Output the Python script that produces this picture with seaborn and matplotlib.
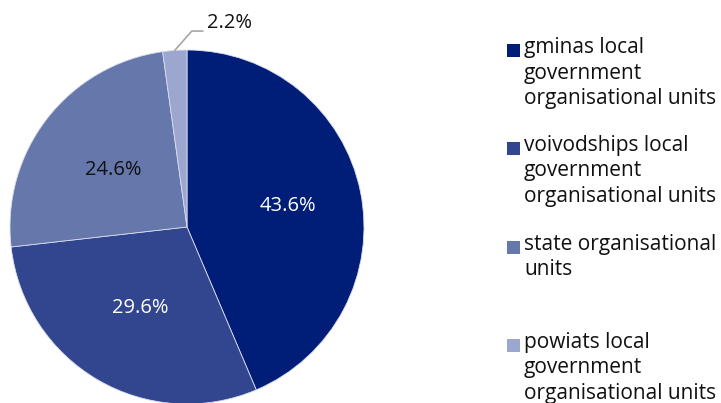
import matplotlib
matplotlib.use("Agg")
import matplotlib.pyplot as plt
import seaborn as sns
import numpy as np
from matplotlib.patches import Rectangle

categories = [
    "gminas local\ngovernment\norganisational units",
    "voivodships local\ngovernment\norganisational units",
    "state organisational\nunits",
    "powiats local\ngovernment\norganisational units",
]
values = [43.6, 29.6, 24.6, 2.2]
colors = ["#001e78", "#32468f", "#6577ab", "#9ba7cf"]
label_colors = ["white", "white", "#111111", "#111111"]

sns.set_theme(style="white")
plt.rcParams["font.family"] = ["Open Sans", "DejaVu Sans"]

W, H = 721, 403
fig = plt.figure(figsize=(W / 100, H / 100), dpi=100)

cx, cy, r = 187, 227, 177
ax = fig.add_axes([(cx - r) / W, (H - cy - r) / H, 2 * r / W, 2 * r / H])
wedges, texts, autotexts = ax.pie(
    values, colors=colors, startangle=90, counterclock=False,
    autopct="%.1f%%", pctdistance=0.53, radius=1.0,
    wedgeprops=dict(linewidth=0.6, edgecolor="#d8dcec"),
    textprops=dict(fontsize=14.5),
)
ax.set_xlim(-1, 1)
ax.set_ylim(-1, 1)
ax.set_aspect("auto")

for t, c in zip(autotexts, label_colors):
    t.set_color(c)
w0 = wedges[0]
ang = np.deg2rad((w0.theta1 + w0.theta2) / 2)
autotexts[0].set_position((0.58 * np.cos(ang), 0.58 * np.sin(ang)))

w3 = wedges[3]
ang = np.deg2rad((w3.theta1 + w3.theta2) / 2)
x0, y0 = np.cos(ang), np.sin(ang)
ax.plot([x0, 0.027, 0.09], [y0, 1.107, 1.107], color="#a6a6a6", lw=1.2, clip_on=False)
autotexts[3].set_position((0.113, 1.15))
autotexts[3].set_ha("left")
autotexts[3].set_va("center")
autotexts[3].set_clip_on(False)

# legend
sq_x, sq = 507, 13
centers = [50.5, 148, 247, 345]
for cat, col, yc in zip(categories, colors, centers):
    fig.patches.append(Rectangle((sq_x / W, (H - yc - sq / 2) / H), sq / W, sq / H,
                                 transform=fig.transFigure, facecolor=col, edgecolor="none"))
    fig.text(524 / W, (H - (yc - 13)) / H, cat, ha="left", va="top",
             fontsize=15.0, color="#111111", linespacing=1.28)

fig.savefig("out.png", dpi=100)
